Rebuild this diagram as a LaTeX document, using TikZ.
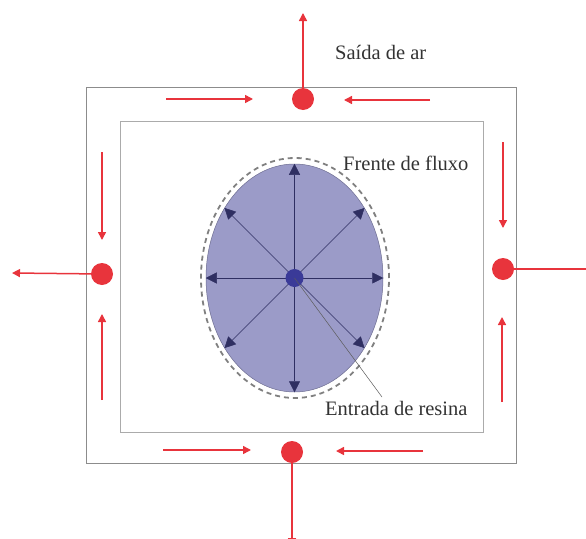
\documentclass[tikz,border=0pt]{standalone}
\usepackage{fontspec}
\setmainfont{Liberation Serif}
\usetikzlibrary{arrows.meta,shapes.geometric,positioning}
\definecolor{airRed}{HTML}{E8343C}
\definecolor{resinFill}{HTML}{9B9BC8}
\definecolor{resinLine}{HTML}{2F2F62}
\definecolor{inletBlue}{HTML}{3A3A98}
\definecolor{frameGrey}{HTML}{8C8C8C}
\definecolor{paleFrame}{HTML}{ABABAB}
\definecolor{labelInk}{HTML}{333333}

\tikzset{
  ventdot/.style={circle,fill=airRed,inner sep=0pt,minimum size=22pt},
  airflow/.style={draw=airRed,line width=1.5pt,-{Triangle[length=8pt,width=8pt]}},
  spoke/.style={draw=resinLine,line width=0.5pt,-{Triangle[length=11pt,width=11pt]}},
  tag/.style={text=labelInk,font=\fontsize{20.5}{24}\selectfont,inner sep=0pt,anchor=base west},
}

\begin{document}
\begin{tikzpicture}[x=1pt,y=-1pt]
\useasboundingbox (0,0) rectangle (586,538);

% mould frame and channel
\draw[frameGrey,line width=1pt] (86,87) rectangle (516,463);
\draw[paleFrame,line width=1pt] (120,121) rectangle (483,432);

% flow front and resin
\node[ellipse,draw=gray,dashed,dash pattern=on 5pt off 4pt,line width=1.8pt,
      minimum width=188pt,minimum height=240pt,inner sep=0pt] (front) at (295,278) {};
\node[ellipse,fill=resinFill,draw=resinLine!70,line width=0.5pt,
      minimum width=177pt,minimum height=228pt,inner sep=0pt] (resin) at (294.5,278) {};
\foreach \a in {0,45,...,315}
  \draw[spoke] (resin.center) -- (resin.\a);
\node[circle,fill=inletBlue,inner sep=0pt,minimum size=18pt] (inlet) at (resin.center) {};

% labels
\node[tag] (ventlabel) at (335,59) {Saída de ar};
\node[tag] (frontlabel) at (343,170) {Frente de fluxo};
\node[tag] (inletlabel) at (325,415) {Entrada de resina};
\coordinate (inletend) at (382,397);
\draw[labelInk!80,line width=0.5pt] (inlet.center) -- (inletend);

% air vents
\node[ventdot] (venttop) at (303,99) {};
\node[ventdot] (ventleft) at (102,274) {};
\node[ventdot] (ventright) at (503,269) {};
\node[ventdot] (ventbottom) at (292,452) {};
\coordinate (topout) at (303,13);
\coordinate (leftout) at (12,273);
\coordinate (rightout) at (598,269);
\coordinate (bottomout) at (292,546);
\draw[airflow] (venttop) -- (topout);
\draw[airflow] (ventleft) -- (leftout);
\draw[airflow] (ventright) -- (rightout);
\draw[airflow] (ventbottom) -- (bottomout);

% air pushed along the channel
\foreach \x/\y/\u/\v in {166/99/253/99, 430/100/344/100, 163/450/251/450, 423/451/336/451,
                         102/152/102/240, 102/400/102/314, 503/142/503/228, 502/402/502/317}
  \draw[airflow] (\x,\y) -- (\u,\v);
\end{tikzpicture}
\end{document}
